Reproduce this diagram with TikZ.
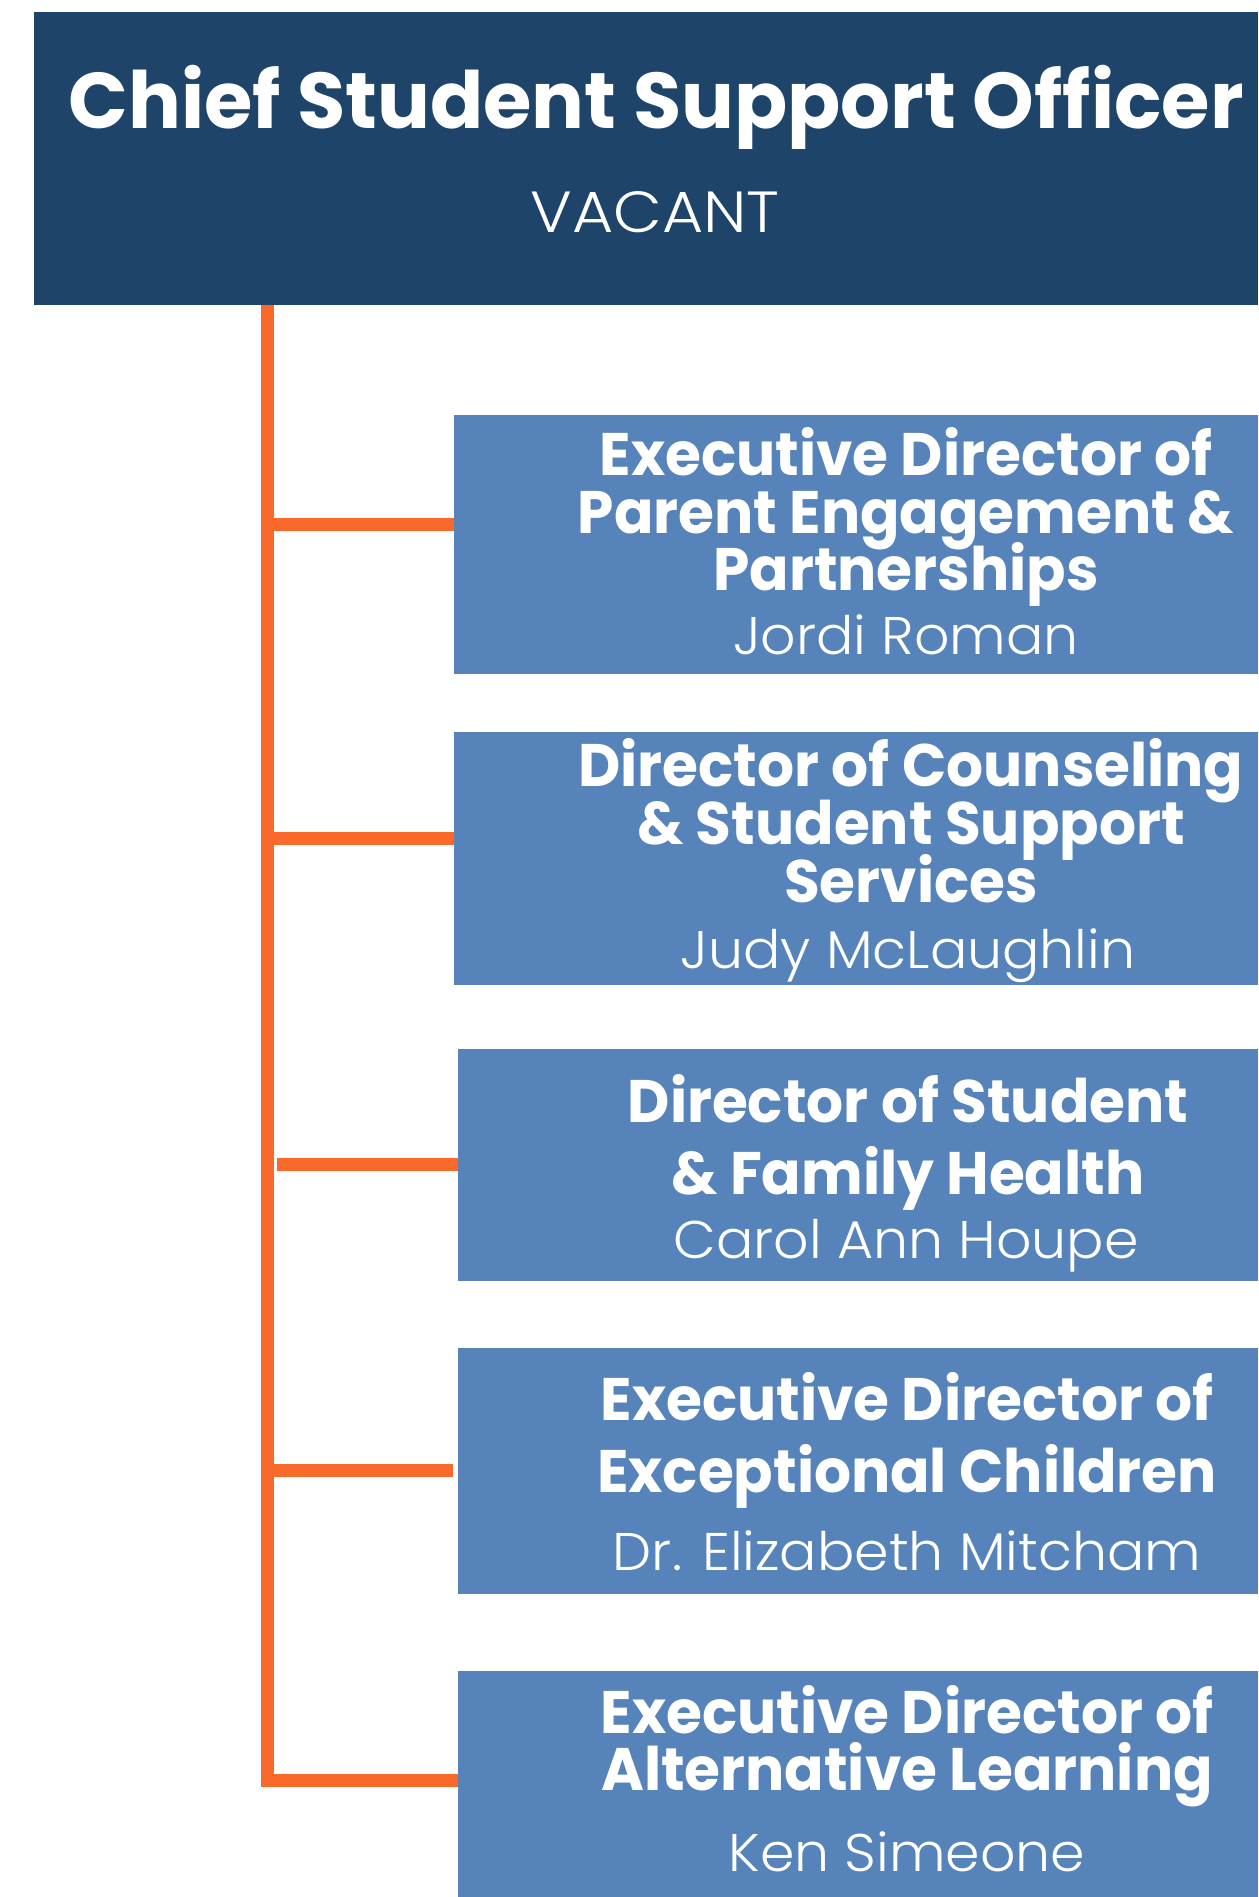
\documentclass[tikz,border=0pt]{standalone}
\usepackage{fontspec}
\setmainfont{Poppins}
\IfFontExistsTF{Poppins Bold}{%
  \newfontfamily\hdfont{Poppins Bold}[FakeStretch=0.97]%
  \newfontfamily\ttlfont{Poppins Bold}[FakeStretch=0.993]}{%
  \newfontfamily\hdfont{Poppins}[FakeBold=2,FakeStretch=0.97]%
  \newfontfamily\ttlfont{Poppins}[FakeBold=2]}
\IfFontExistsTF{Poppins Light}{%
  \newfontfamily\nmfont{Poppins Light}[FakeStretch=1.045]%
  \newfontfamily\vacfont{Poppins Light}[FakeStretch=1.09]}{%
  \newfontfamily\nmfont{Poppins}[FakeStretch=1.045]%
  \newfontfamily\vacfont{Poppins}[FakeStretch=1.09]}
\definecolor{navy}{HTML}{1F4469}
\definecolor{boxblue}{HTML}{5683BA}
\definecolor{orng}{HTML}{F96A2A}
\tikzset{
  topbox/.style={fill=navy, draw=none, anchor=north west, inner sep=0pt, outer sep=0pt},
  rolebox/.style={fill=boxblue, draw=none, anchor=north west, inner sep=0pt, outer sep=0pt},
  conn/.style={draw=orng, line width=13pt, line cap=butt, line join=miter},
  ttl/.style={text=white, anchor=base, inner sep=0pt, font=\ttlfont\fontsize{79}{79}\selectfont},
  vac/.style={text=white, anchor=base, inner sep=0pt, font=\vacfont\fontsize{58}{58}\selectfont},
  role/.style={text=white, anchor=base, inner sep=0pt, font=\hdfont\fontsize{60}{60}\selectfont},
  who/.style={text=white, anchor=base, inner sep=0pt, font=\nmfont\fontsize{53}{53}\selectfont}
}
\begin{document}
\begin{tikzpicture}[x=1pt,y=-1pt]
\useasboundingbox (0,0) rectangle (1258,1897);
\fill[white] (0,0) rectangle (1258,1897);
% boxes
\node[topbox, minimum width=1224pt, minimum height=293pt] (top) at (34,12) {};
\node[rolebox, minimum width=804pt, minimum height=259pt] (b1) at (454,415) {};
\node[rolebox, minimum width=804pt, minimum height=253pt] (b2) at (454,732) {};
\node[rolebox, minimum width=800pt, minimum height=232pt] (b3) at (458,1049) {};
\node[rolebox, minimum width=800pt, minimum height=246pt] (b4) at (458,1348) {};
\node[rolebox, minimum width=800pt, minimum height=226pt] (b5) at (458,1671) {};
% texts
\node[ttl] (t0) at (656,129) {Chief Student Support Officer};
\node[vac] (n0) at (655,233) {VACANT};
\node[role] (t1a) at (906,475) {Executive Director of};
\node[role] (t1b) at (906,533) {Parent Engagement \&};
\node[role] (t1c) at (906,590) {Partnerships};
\node[who] (n1) at (906,654) {Jordi Roman};
\node[role] (t2a) at (911,786) {Director of Counseling};
\node[role] (t2b) at (911,844) {\& Student Support};
\node[role] (t2c) at (911,902) {Services};
\node[who] (n2) at (908,968) {Judy McLaughlin};
\node[role] (t3a) at (908,1122) {Director of Student};
\node[role] (t3b) at (908,1194) {\& Family Health};
\node[who] (n3) at (906,1258) {Carol Ann Houpe};
\node[role] (t4a) at (907,1420) {Executive Director of};
\node[role] (t4b) at (907,1492) {Exceptional Children};
\node[who] (n4) at (907,1570) {Dr. Elizabeth Mitcham};
\node[role] (t5a) at (907,1733) {Executive Director of};
\node[role] (t5b) at (907,1790) {Alternative Learning};
\node[who] (n5) at (907,1871) {Ken Simeone};
% connectors
\coordinate (s0) at (267,305);
\coordinate (j1) at (267,524);
\coordinate (j2) at (267,838);
\coordinate (j3) at (277,1164);
\coordinate (j4) at (267,1470);
\coordinate (j5) at (267,1780);
\draw[conn] (s0) -- (j5) -- (j5 -| b5.west);
\draw[conn] (j1) -- (j1 -| b1.west);
\draw[conn] (j2) -- (j2 -| b2.west);
\draw[conn] (j3) -- (j3 -| b3.west);
\draw[conn, shorten >=5pt] (j4) -- (j4 -| b4.west);
\end{tikzpicture}
\end{document}
